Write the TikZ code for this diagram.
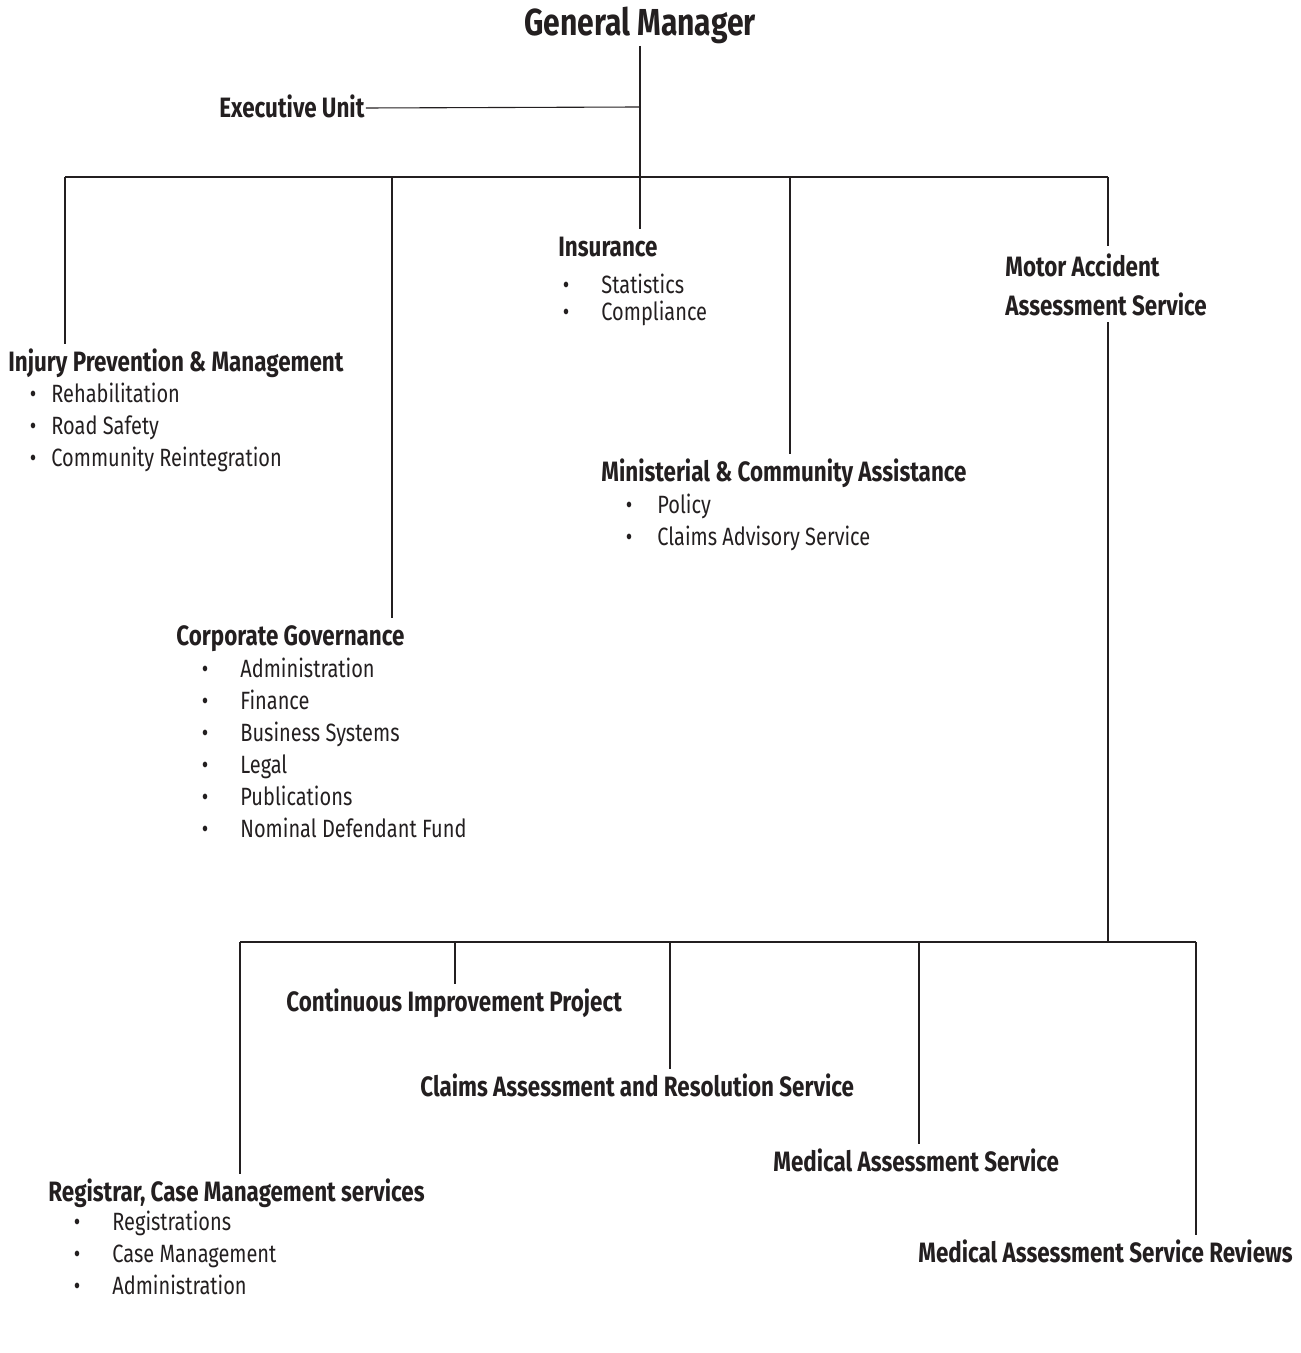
\documentclass[tikz,border=0pt]{standalone}
\usepackage{fontspec}
\setmainfont{Fira Sans}[FakeStretch=0.80]
\newfontfamily\headfont{Fira Sans}[FakeStretch=0.80]
\definecolor{ink}{RGB}{35,31,32}
\begin{document}
\begin{tikzpicture}[x=0.5pt,y=-0.5pt,
  every node/.style={inner sep=0pt, text=ink},
  chief/.style={font=\headfont\bfseries\fontsize{18.8}{21}\selectfont},
  unitbase/.style={font=\headfont\bfseries\fontsize{14}{19.5}\selectfont, anchor=west, align=left},
  unit/.style={unitbase, text height=9.2pt, text depth=0pt},
  entry/.style={font=\fontsize{12.5}{14}\selectfont, anchor=west, text height=8.6pt, text depth=0pt},
  dot/.style={font=\fontsize{12.5}{14}\selectfont, text height=8.6pt, text depth=0pt},
  link/.style={draw=ink, line width=0.55pt},
  drop/.style={link, shorten >=4pt}]
\useasboundingbox (0,0) rectangle (1300,1353);

% top of the chart
\node[chief] (gm) at (640,25) {General Manager};
\node[unit]  (exec) at (219,108) {Executive Unit};

% divisions
\node[unit] (ins) at (558,247) {Insurance};
\node[unit] (inj) at (8,362) {Injury Prevention \& Management};
\node[unit] (mca) at (601,472) {Ministerial \& Community Assistance};
\node[unit] (cg)  at (176,636) {Corporate Governance};
\node[unitbase] (maas) at (1005,285) {Motor Accident\\Assessment Service};

% services under the assessment service
\node[unit] (cip)  at (286,1002) {Continuous Improvement Project};
\node[unit] (cars) at (420,1087) {Claims Assessment and Resolution Service};
\node[unit] (mas)  at (773,1162) {Medical Assessment Service};
\node[unit] (reg)  at (48,1192)  {Registrar, Case Management services};
\node[unit] (masr) at (918,1253) {Medical Assessment Service Reviews};

% bullet lists: bullet x / text x / y / text
\foreach \bx/\tx/\y/\t [count=\i] in {
   566/601/285/Statistics, 566/601/312/Compliance,
   33/51/394/Rehabilitation, 33/51/426/Road Safety, 33/51/458/Community Reintegration,
   629/657/505/Policy, 629/657/537/Claims Advisory Service,
   205/240/669/Administration, 205/240/701/Finance, 205/240/733/Business Systems,
   205/240/765/Legal, 205/240/797/Publications, 205/240/829/Nominal Defendant Fund,
   77/112/1222/Registrations, 77/112/1254/Case Management, 77/112/1286/Administration}{
  \node[dot] (b\i) at (\bx,\y) {\textbullet};
  \node[entry] (e\i) at (\tx,\y) {\t};
}

% junctions on the upper bar
\coordinate (hub) at (640,177);
\coordinate (u1) at (65,177);
\coordinate (u2) at (392,177);
\coordinate (u4) at (790,177);
\coordinate (u5) at (1108,177);
\coordinate (xj) at (640,107);

% junctions on the lower bar
\coordinate (l1) at (240,942);
\coordinate (l2) at (455,942);
\coordinate (l3) at (670,942);
\coordinate (l4) at (919,942);
\coordinate (l5) at (1196,942);
\coordinate (lm) at (1108,942);

% upper structure
\draw[link] (gm.south) ++(0,2) -- (hub);
\draw[link] (exec.east) ++(1,0) -- (xj);
\draw[link] (u1) -- (u5);
\draw[drop] (u1) -- (u1 |- inj.north);
\draw[drop] (u2) -- (u2 |- cg.north);
\draw[drop] (hub) -- (hub |- ins.north);
\draw[drop] (u4) -- (u4 |- mca.north);
\draw[drop] (u5) -- (u5 |- maas.north);

% lower structure
\draw[link] (maas.south -| lm) ++(0,6) -- (lm);
\draw[link] (l1) -- (l5);
\draw[drop] (l1) -- (l1 |- reg.north);
\draw[drop] (l2) -- (l2 |- cip.north);
\draw[drop] (l3) -- (l3 |- cars.north);
\draw[drop] (l4) -- (l4 |- mas.north);
\draw[drop] (l5) -- (l5 |- masr.north);
\end{tikzpicture}
\end{document}
